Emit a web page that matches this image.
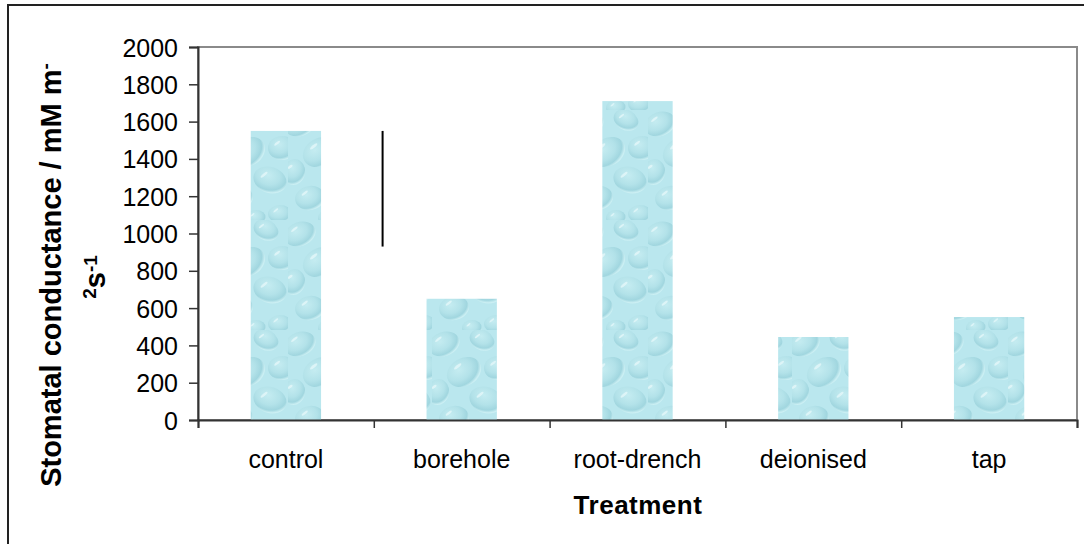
<!DOCTYPE html>
<html>
<head>
<meta charset="utf-8">
<script src="https://cdn.jsdelivr.net/npm/d3@7"></script>
<style>
  body { margin: 0; background: #fff; }
  text { font-family: "Liberation Sans", Arial, sans-serif; fill: #000; }
</style>
</head>
<body>
<div id="chart"></div>
<script>
// chart values
const categories = ["control", "borehole", "root-drench", "deionised", "tap"];
const conductance = [1550, 650, 1710, 445, 552];
const yTicks = [0, 200, 400, 600, 800, 1000, 1200, 1400, 1600, 1800, 2000];
// the lone vertical line next to the control bar (category units, value range)
const markPos = [1.05];
const markRange = [930, 1550];

const width = 1084;
const height = 544;
const margin = { top: 47, right: 7, bottom: 124, left: 198 };

const svg = d3
  .select("#chart")
  .append("svg")
  .attr("width", width)
  .attr("height", height);

// water drop texture for the bars
const defs = svg.append("defs");
const drop = defs
  .append("radialGradient")
  .attr("id", "drop")
  .attr("cx", "40%")
  .attr("cy", "35%")
  .attr("r", "65%");
drop.append("stop").attr("offset", "0%").attr("stop-color", "#c9eef2");
drop.append("stop").attr("offset", "55%").attr("stop-color", "#b0e0e7");
drop.append("stop").attr("offset", "85%").attr("stop-color", "#96cfd9");
drop.append("stop").attr("offset", "100%").attr("stop-color", "#d2f2f5");

const pat = defs
  .append("pattern")
  .attr("id", "water")
  .attr("patternUnits", "userSpaceOnUse")
  .attr("width", 72)
  .attr("height", 110);
pat.append("rect").attr("width", 72).attr("height", 110).attr("fill", "#bae7ee");
const drops = [
  [12, 14, 16, 12, -20], [50, 10, 13, 10, 30], [66, 38, 14, 12, 0],
  [32, 42, 18, 14, -30], [6, 62, 11, 13, 10], [54, 70, 17, 13, 20],
  [22, 88, 15, 12, -10], [64, 104, 12, 9, 0], [40, 108, 10, 8, 0]
];
drops.forEach(([cx, cy, rx, ry, a]) => {
  pat
    .append("ellipse")
    .attr("cx", cx)
    .attr("cy", cy)
    .attr("rx", rx)
    .attr("ry", ry)
    .attr("transform", `rotate(${a} ${cx} ${cy})`)
    .attr("fill", "url(#drop)")
    .attr("opacity", 0.7);
  pat
    .append("ellipse")
    .attr("cx", cx - rx * 0.35)
    .attr("cy", cy - ry * 0.4)
    .attr("rx", rx * 0.25)
    .attr("ry", ry * 0.1)
    .attr("transform", `rotate(-40 ${cx - rx * 0.35} ${cy - ry * 0.4})`)
    .attr("fill", "#eafafb")
    .attr("opacity", 0.7);
});

// outer chart frame
svg
  .append("rect")
  .attr("x", 8)
  .attr("y", 5)
  .attr("width", width)
  .attr("height", height)
  .attr("fill", "none")
  .attr("stroke", "#222")
  .attr("stroke-width", 2);

const x = d3
  .scaleBand()
  .domain(categories)
  .range([margin.left, width - margin.right])
  .paddingInner(0.6)
  .paddingOuter(0.3);

const xPos = d3
  .scaleLinear()
  .domain([0, categories.length])
  .range([margin.left, width - margin.right]);

const y = d3
  .scaleLinear()
  .domain([0, 2000])
  .range([height - margin.bottom, margin.top]);

// plot area border
svg
  .append("rect")
  .attr("x", margin.left)
  .attr("y", margin.top)
  .attr("width", width - margin.right - margin.left)
  .attr("height", height - margin.bottom - margin.top)
  .attr("fill", "none")
  .attr("stroke", "#8a8a8a")
  .attr("stroke-width", 2);

// bars
svg
  .selectAll(".bar")
  .data(conductance)
  .enter()
  .append("rect")
  .attr("class", "bar")
  .attr("x", (d, i) => x(categories[i]))
  .attr("y", (d) => y(d))
  .attr("width", x.bandwidth())
  .attr("height", (d) => y(0) - y(d))
  .attr("fill", "url(#water)");

// vertical line
svg
  .selectAll(".mark")
  .data(markPos)
  .enter()
  .append("line")
  .attr("class", "mark")
  .attr("x1", (d) => xPos(d))
  .attr("x2", (d) => xPos(d))
  .attr("y1", y(markRange[0]))
  .attr("y2", y(markRange[1]))
  .attr("stroke", "#000")
  .attr("stroke-width", 2);

// y axis
const yAxis = svg
  .append("g")
  .attr("transform", `translate(${margin.left},0)`)
  .call(
    d3
      .axisLeft(y)
      .tickValues(yTicks)
      .tickFormat(d3.format("d"))
      .tickSize(9)
      .tickPadding(11)
  );
yAxis.attr("font-family", null).attr("font-size", null);
yAxis.select(".domain").attr("stroke", "#333").attr("stroke-width", 2);
yAxis.selectAll(".tick line").attr("stroke", "#333").attr("stroke-width", 1.5);
yAxis
  .selectAll(".tick text")
  .style("font-size", "25px")
  .attr("dy", "0.36em");

// x axis: ticks between categories
const xAxis = svg
  .append("g")
  .attr("transform", `translate(0,${y(0)})`)
  .call(
    d3
      .axisBottom(xPos)
      .tickValues(d3.range(categories.length + 1))
      .tickSize(8)
      .tickFormat("")
  );
xAxis.select(".domain").attr("stroke", "#333").attr("stroke-width", 2);
xAxis.selectAll(".tick line").attr("stroke", "#333").attr("stroke-width", 1.5);

svg
  .selectAll(".cat")
  .data(categories)
  .enter()
  .append("text")
  .attr("class", "cat")
  .attr("x", (d) => x(d) + x.bandwidth() / 2)
  .attr("y", 468)
  .attr("text-anchor", "middle")
  .style("font-size", "25px")
  .text((d) => d);

// axis titles
svg
  .append("text")
  .attr("x", 638)
  .attr("y", 514)
  .attr("text-anchor", "middle")
  .style("font-size", "26px")
  .style("font-weight", "bold")
  .style("letter-spacing", "0.5px")
  .text("Treatment");

const yTitle = svg
  .append("text")
  .attr("transform", "translate(61,275) rotate(-90)")
  .attr("text-anchor", "middle")
  .style("font-size", "29px")
  .style("font-weight", "bold");
yTitle.append("tspan").text("Stomatal conductance / mM m");
yTitle.append("tspan").attr("dy", "-0.45em").style("font-size", "19px").text("-");

const yTitle2 = svg
  .append("text")
  .attr("transform", "translate(105,277) rotate(-90)")
  .attr("text-anchor", "middle")
  .style("font-size", "29px")
  .style("font-weight", "bold");
yTitle2.append("tspan").attr("dy", "-0.45em").style("font-size", "19px").text("2");
yTitle2.append("tspan").attr("dy", "0.3em").text("s");
yTitle2.append("tspan").attr("dy", "-0.45em").style("font-size", "19px").text("-1");
</script>
</body>
</html>
